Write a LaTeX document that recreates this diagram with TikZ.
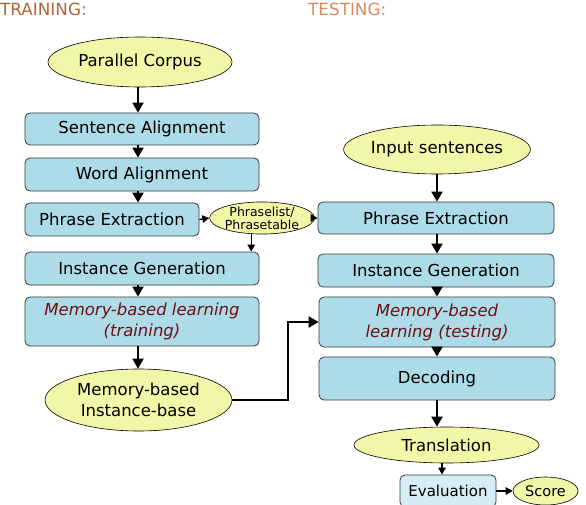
\documentclass[tikz,border=0pt]{standalone}
\usepackage{fontspec}
\setmainfont{DejaVu Sans}
\usetikzlibrary{shapes.geometric,arrows.meta,calc}
\definecolor{boxblue}{HTML}{ADDCE8}
\definecolor{evalblue}{HTML}{D6EDF5}
\definecolor{ellyellow}{HTML}{F0F7A8}
\definecolor{edgegray}{HTML}{3A3A3A}
\definecolor{darkred}{HTML}{6E0F12}
\definecolor{trainc}{HTML}{B0643A}
\definecolor{testc}{HTML}{D98B5F}
\begin{document}
\begin{tikzpicture}[x=1pt,y=-1pt,
  stepbox/.style={draw=edgegray,line width=0.8pt,fill=boxblue,rounded corners=5pt,
    inner sep=0pt,font=\fontsize{16.5}{21}\selectfont,align=center},
  ell/.style={draw=black,line width=0.6pt,fill=ellyellow,ellipse,inner sep=0pt,
    font=\fontsize{16.5}{21}\selectfont,align=center},
  arr/.style={line width=2pt,-{Triangle[width=11pt,length=10pt]}},
  sarr/.style={line width=1.3pt,-{Triangle[width=7.5pt,length=7pt]}},
  title/.style={anchor=west,inner sep=0pt,font=\fontsize{16.8}{18}\selectfont},
  mbl/.style={text=darkred,font=\fontsize{16.5}{21}\selectfont\itshape}
]
\useasboundingbox (0,0) rectangle (586,505);

% titles
\node[title,text=trainc] (ttrain) at (0,9) {TRAINING:};
\node[title,text=testc] (ttest) at (308,9) {TESTING:};

% training column
\node[ell,minimum width=184pt,minimum height=50pt] (pc) at (140,62) {Parallel Corpus};
\node[stepbox,minimum width=234pt,minimum height=32pt] (sa) at (142,129) {Sentence Alignment};
\node[stepbox,minimum width=234pt,minimum height=33pt] (wa) at (142,174.5) {Word Alignment};
\node[stepbox,minimum width=174pt,minimum height=33pt] (pe1) at (112,219.5) {Phrase Extraction};
\node[ell,minimum width=92pt,minimum height=32pt,font=\fontsize{12.5}{13}\selectfont] (pl) at (262,218) {Phraselist/\\Phrasetable};
\node[stepbox,minimum width=234pt,minimum height=33pt] (ig1) at (142,268.5) {Instance Generation};
\node[stepbox,minimum width=234pt,minimum height=49pt,mbl] (mlt1) at (142,321.5) {Memory-based learning\\(training)};
\node[ell,minimum width=187pt,minimum height=62pt] (mib) at (138.5,400) {Memory-based\\Instance-base};

% testing column
\node[ell,minimum width=184pt,minimum height=49pt] (is) at (437,149.5) {Input sentences};
\node[stepbox,minimum width=236pt,minimum height=32pt] (pe2) at (436,218) {Phrase Extraction};
\node[stepbox,minimum width=236pt,minimum height=33pt] (ig2) at (436,270.5) {Instance Generation};
\node[stepbox,minimum width=236pt,minimum height=50pt,mbl] (mlt2) at (437,322) {Memory-based\\learning (testing)};
\node[stepbox,minimum width=236pt,minimum height=43pt] (dec) at (437,378.5) {Decoding};
\node[ell,minimum width=185pt,minimum height=36pt] (tr) at (446.5,445) {Translation};
\node[stepbox,fill=evalblue,minimum width=96pt,minimum height=32pt,font=\fontsize{15}{18}\selectfont] (ev) at (448,491) {Evaluation};
\node[ell,minimum width=65pt,minimum height=28pt,font=\fontsize{14.5}{18}\selectfont] (sc) at (545.5,491) {Score};

\coordinate (bend) at (288,0);
\coordinate (cL) at (138,0);
\coordinate (cR) at (437,0);
\coordinate (cE) at (442,0);

% training arrows
\draw[arr] (pc.south -| cL) -- (sa.north -| cL);
\draw[arr] (sa.south -| cL) -- (wa.north -| cL);
\draw[arr] (wa.south -| cL) -- (pe1.north -| cL);
\draw[sarr] (pe1.east) -- (pl.west);
\draw[sarr] (pl.east) -- (pe2.west);
\draw[sarr] (pl.236) -- (pl.236 |- ig1.north);
\draw[arr] (ig1.south -| cL) -- (mlt1.north -| cL);
\draw[arr] (mlt1.south -| cL) -- (mib.north -| cL);
\draw[arr] (mib.east) -- (mib.east -| bend) |- (mlt2.west);

% testing arrows
\draw[arr] (is.south -| cR) -- (pe2.north -| cR);
\draw[arr] (pe2.south -| cR) -- (ig2.north -| cR);
\draw[arr] (ig2.south -| cR) -- (mlt2.north -| cR);
\draw[arr] (mlt2.south -| cR) -- (dec.north -| cR);
\draw[arr] (dec.south -| cR) -- (tr.north -| cR);
\draw[sarr] (tr.south -| cE) -- (ev.north -| cE);
\draw[sarr] (ev.east) -- (sc.west);
\end{tikzpicture}
\end{document}
